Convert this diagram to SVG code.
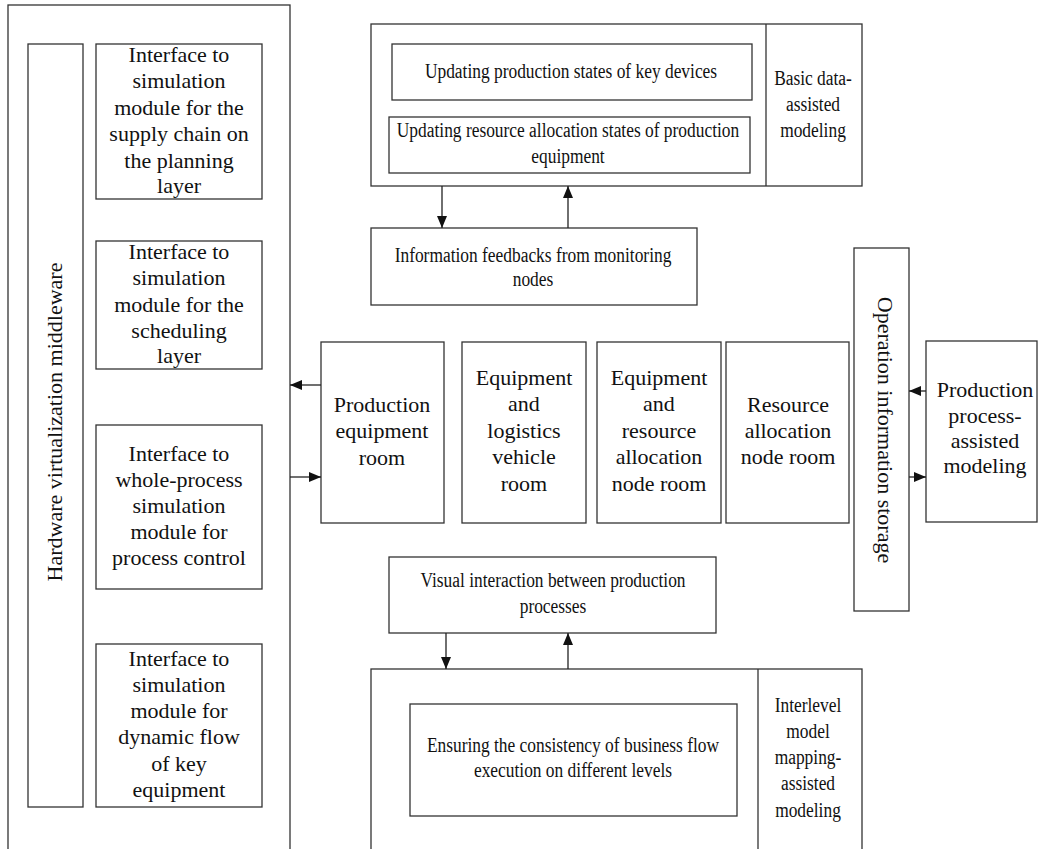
<svg xmlns="http://www.w3.org/2000/svg" width="1038" height="849" viewBox="0 0 1038 849">
<style>
.b{fill:#fff;stroke:#333;stroke-width:1.3}
.n{fill:none;stroke:#333;stroke-width:1.3}
text{font-family:"Liberation Serif","Times New Roman",serif;fill:#111;text-anchor:middle}
.l{font-size:22px}
.s{font-size:20px}
.c line{stroke:#222;stroke-width:1.3}
</style>
<defs>
<marker id="ah" markerUnits="userSpaceOnUse" markerWidth="12" markerHeight="10" viewBox="0 0 12 10" refX="12" refY="5" orient="auto">
<path d="M0,0 L12,5 L0,10 Z" fill="#111"/>
</marker>
</defs>
<rect width="1038" height="849" fill="#fff"/>

<g id="hw-outer"><rect class="b" x="8" y="5" width="282" height="870"/></g>
<g id="hw-middleware"><rect class="b" x="28" y="44" width="55" height="763"/>
<text class="l" transform="translate(62,422) rotate(-90)">Hardware virtualization middleware</text></g>
<g id="if-planning"><rect class="b" x="96" y="44" width="166" height="155"/>
<text class="l"><tspan x="179" y="62">Interface to</tspan><tspan x="179" y="88">simulation</tspan><tspan x="179" y="115">module for the</tspan><tspan x="179" y="141">supply chain on</tspan><tspan x="179" y="168">the planning</tspan><tspan x="179" y="193">layer</tspan></text></g>
<g id="if-scheduling"><rect class="b" x="96" y="241" width="166" height="128"/>
<text class="l"><tspan x="179" y="259">Interface to</tspan><tspan x="179" y="285">simulation</tspan><tspan x="179" y="312">module for the</tspan><tspan x="179" y="338">scheduling</tspan><tspan x="179" y="363">layer</tspan></text></g>
<g id="if-process"><rect class="b" x="96" y="425" width="166" height="164"/>
<text class="l"><tspan x="179" y="461">Interface to</tspan><tspan x="179" y="487">whole-process</tspan><tspan x="179" y="513">simulation</tspan><tspan x="179" y="539">module for</tspan><tspan x="179" y="565">process control</tspan></text></g>
<g id="if-dynamic"><rect class="b" x="96" y="644" width="166" height="163"/>
<text class="l"><tspan x="179" y="666">Interface to</tspan><tspan x="179" y="692">simulation</tspan><tspan x="179" y="718">module for</tspan><tspan x="179" y="744">dynamic flow</tspan><tspan x="179" y="771">of key</tspan><tspan x="179" y="797">equipment</tspan></text></g>

<g id="basic-data"><rect class="b" x="371" y="24" width="491" height="162"/>
<line class="n" x1="766" y1="24" x2="766" y2="186"/>
<text class="s" transform="translate(813,0) scale(0.87,1)"><tspan x="0" y="85">Basic data-</tspan><tspan x="0" y="111">assisted</tspan><tspan x="0" y="137">modeling</tspan></text></g>
<g id="upd-key"><rect class="b" x="392" y="44" width="360" height="56"/>
<text class="s" transform="translate(571,78) scale(0.87,1)" x="0" y="0">Updating production states of key devices</text></g>
<g id="upd-resource"><rect class="b" x="389" y="117" width="361" height="56"/>
<text class="s" transform="translate(568,0) scale(0.87,1)"><tspan x="0" y="137">Updating resource allocation states of production</tspan><tspan x="0" y="163">equipment</tspan></text></g>
<g id="feedback"><rect class="b" x="371" y="228" width="326" height="77"/>
<text class="s" transform="translate(533,0) scale(0.87,1)"><tspan x="0" y="262">Information feedbacks from monitoring</tspan><tspan x="0" y="286">nodes</tspan></text></g>

<g id="room-production"><rect class="b" x="321" y="342" width="123" height="181"/>
<text class="l"><tspan x="382" y="412">Production</tspan><tspan x="382" y="438">equipment</tspan><tspan x="382" y="465">room</tspan></text></g>
<g id="room-logistics"><rect class="b" x="462" y="342" width="124" height="181"/>
<text class="l"><tspan x="524" y="385">Equipment</tspan><tspan x="524" y="411">and</tspan><tspan x="524" y="438">logistics</tspan><tspan x="524" y="464">vehicle</tspan><tspan x="524" y="491">room</tspan></text></g>
<g id="room-eq-resource"><rect class="b" x="597" y="342" width="124" height="181"/>
<text class="l"><tspan x="659" y="385">Equipment</tspan><tspan x="659" y="411">and</tspan><tspan x="659" y="438">resource</tspan><tspan x="659" y="464">allocation</tspan><tspan x="659" y="491">node room</tspan></text></g>
<g id="room-resource"><rect class="b" x="726" y="342" width="123" height="181"/>
<text class="l"><tspan x="788" y="412">Resource</tspan><tspan x="788" y="438">allocation</tspan><tspan x="788" y="464">node room</tspan></text></g>

<g id="op-storage"><rect class="b" x="854" y="248" width="55" height="363"/>
<text class="l" transform="translate(878,430) rotate(90)">Operation information storage</text></g>
<g id="prod-process"><rect class="b" x="926" y="341" width="111" height="181"/>
<text class="l"><tspan x="985" y="397">Production</tspan><tspan x="985" y="423">process-</tspan><tspan x="985" y="448">assisted</tspan><tspan x="985" y="473">modeling</tspan></text></g>

<g id="visual"><rect class="b" x="389" y="557" width="327" height="76"/>
<text class="s" transform="translate(553,0) scale(0.87,1)"><tspan x="0" y="587">Visual interaction between production</tspan><tspan x="0" y="613">processes</tspan></text></g>
<g id="interlevel"><rect class="b" x="371" y="669" width="491" height="200"/>
<line class="n" x1="758" y1="669" x2="758" y2="849"/>
<text class="s" transform="translate(808,0) scale(0.87,1)"><tspan x="0" y="712">Interlevel</tspan><tspan x="0" y="738">model</tspan><tspan x="0" y="764">mapping-</tspan><tspan x="0" y="790">assisted</tspan><tspan x="0" y="817">modeling</tspan></text></g>
<g id="consistency"><rect class="b" x="410" y="704" width="327" height="112"/>
<text class="s" transform="translate(573,0) scale(0.87,1)"><tspan x="0" y="752">Ensuring the consistency of business flow</tspan><tspan x="0" y="777">execution on different levels</tspan></text></g>

<g id="connectors" class="c">
<line x1="442" y1="186" x2="442" y2="228" marker-end="url(#ah)"/>
<line x1="568" y1="228" x2="568" y2="186" marker-end="url(#ah)"/>
<line x1="321" y1="385" x2="290" y2="385" marker-end="url(#ah)"/>
<line x1="290" y1="477" x2="321" y2="477" marker-end="url(#ah)"/>
<line x1="926" y1="391" x2="909" y2="391" marker-end="url(#ah)"/>
<line x1="909" y1="477" x2="926" y2="477" marker-end="url(#ah)"/>
<line x1="446" y1="633" x2="446" y2="669" marker-end="url(#ah)"/>
<line x1="568" y1="669" x2="568" y2="633" marker-end="url(#ah)"/>
</g>
</svg>
